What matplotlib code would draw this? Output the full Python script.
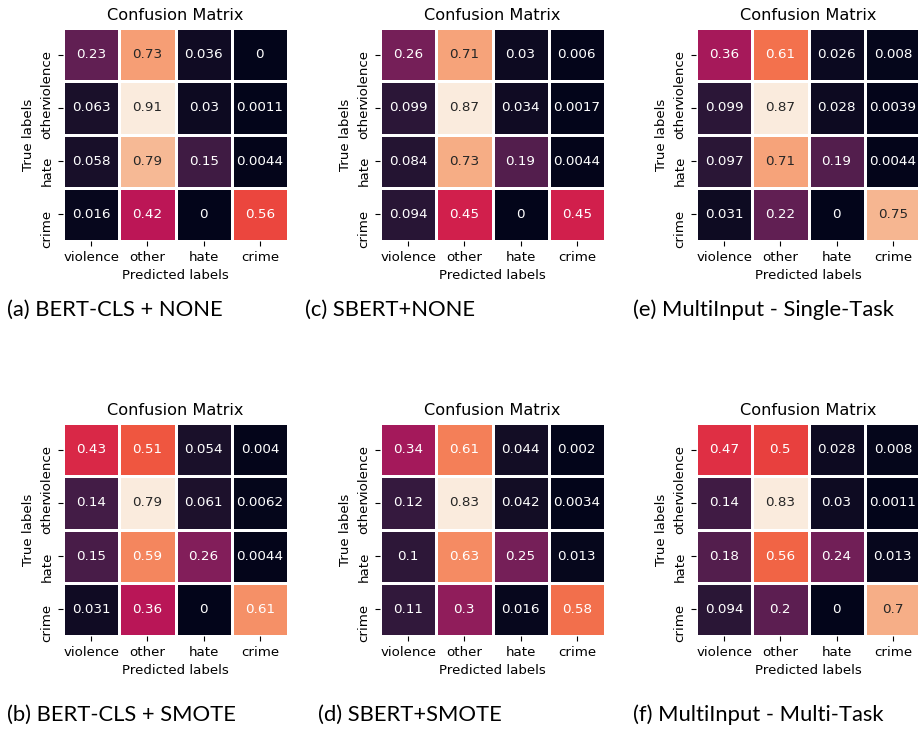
import numpy as np
import seaborn as sns
from matplotlib import pyplot as plt

labels = ["violence", "other", "hate", "crime"]

# normalized confusion matrices (rows = true, cols = predicted)
bert_none = [[0.23, 0.73, 0.036, 0],
             [0.063, 0.91, 0.03, 0.0011],
             [0.058, 0.79, 0.15, 0.0044],
             [0.016, 0.42, 0, 0.56]]
sbert_none = [[0.26, 0.71, 0.03, 0.006],
              [0.099, 0.87, 0.034, 0.0017],
              [0.084, 0.73, 0.19, 0.0044],
              [0.094, 0.45, 0, 0.45]]
multi_single = [[0.36, 0.61, 0.026, 0.008],
                [0.099, 0.87, 0.028, 0.0039],
                [0.097, 0.71, 0.19, 0.0044],
                [0.031, 0.22, 0, 0.75]]
bert_smote = [[0.43, 0.51, 0.054, 0.004],
              [0.14, 0.79, 0.061, 0.0062],
              [0.15, 0.59, 0.26, 0.0044],
              [0.031, 0.36, 0, 0.61]]
sbert_smote = [[0.34, 0.61, 0.044, 0.002],
               [0.12, 0.83, 0.042, 0.0034],
               [0.1, 0.63, 0.25, 0.013],
               [0.11, 0.3, 0.016, 0.58]]
multi_multi = [[0.47, 0.5, 0.028, 0.008],
               [0.14, 0.83, 0.03, 0.0011],
               [0.18, 0.56, 0.24, 0.013],
               [0.094, 0.2, 0, 0.7]]

captions = ["(a) BERT-CLS + NONE", "(c) SBERT+NONE", "(e) MultiInput - Single-Task",
            "(b) BERT-CLS + SMOTE", "(d) SBERT+SMOTE", "(f) MultiInput - Multi-Task"]
matrices = [bert_none, sbert_none, multi_single, bert_smote, sbert_smote, multi_multi]

plt.rcParams["font.size"] = 9.6

W, H = 918, 731
fig = plt.figure(figsize=(W / 100, H / 100), dpi=100)

# heatmap boxes in pixels: left, top
lefts = [63, 380, 696]
tops = [28, 423]
cap_x = [[7, 305, 633], [7, 318, 633]]
cap_y = [310, 715]
box_w, box_h = 225, 213

for i, cm in enumerate(matrices):
    r, c = divmod(i, 3)
    x0 = lefts[c]
    y0 = tops[r]
    ax = fig.add_axes([x0 / W, (H - y0 - box_h) / H, box_w / W, box_h / H])
    sns.heatmap(np.array(cm), annot=True, fmt=".2g", cmap="rocket", cbar=False,
                linewidths=0.75, linecolor="white", ax=ax,
                xticklabels=labels, yticklabels=labels,
                annot_kws={"size": 9.7})
    ax.set_title("Confusion Matrix", fontsize=11.6)
    ax.set_xlabel("Predicted labels")
    ax.set_ylabel("True labels")
    ax.tick_params(length=3.5, width=0.8)
    plt.setp(ax.get_yticklabels(), rotation=90, va="center_baseline")
    plt.setp(ax.get_xticklabels(), rotation=0)

    fig.text(cap_x[r][c] / W, 1 - cap_y[r] / H, captions[i], family="Lato",
             fontsize=15.8, va="center", ha="left")

plt.savefig("out.png", dpi=100)
